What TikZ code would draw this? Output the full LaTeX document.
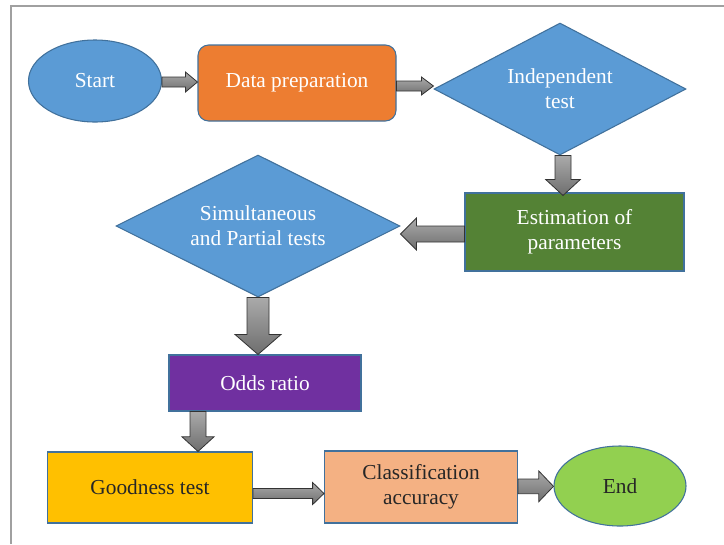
\documentclass[tikz,border=0pt]{standalone}
\usepackage{fontspec}
\setmainfont{Liberation Serif}
\usetikzlibrary{shapes.geometric,calc}
\definecolor{bord}{HTML}{41719C}
\definecolor{cblue}{HTML}{5B9BD5}
\definecolor{corange}{HTML}{ED7D31}
\definecolor{cgreen}{HTML}{548235}
\definecolor{cpurple}{HTML}{7030A0}
\definecolor{cyellow}{HTML}{FFC000}
\definecolor{cpeach}{HTML}{F4B183}
\definecolor{clgreen}{HTML}{92D050}
\definecolor{frame}{HTML}{A0A0A0}
\definecolor{agrayL}{HTML}{AAAAAA}
\definecolor{agrayD}{HTML}{6E6E6E}
\newcommand{\rarrowblk}[5]{\draw[barrow] let \p1=(#1), \p2=(#2) in
  (\x1,\y1+#3) -- (\x2-#5,\y1+#3) -- (\x2-#5,\y1+#4) -- (\x2,\y1) -- (\x2-#5,\y1-#4) -- (\x2-#5,\y1-#3) -- (\x1,\y1-#3) -- cycle;}
\newcommand{\larrowblk}[5]{\draw[barrow] let \p1=(#1), \p2=(#2) in
  (\x1,\y1+#3) -- (\x2+#5,\y1+#3) -- (\x2+#5,\y1+#4) -- (\x2,\y1) -- (\x2+#5,\y1-#4) -- (\x2+#5,\y1-#3) -- (\x1,\y1-#3) -- cycle;}
\newcommand{\darrowblk}[5]{\draw[barrow] let \p1=(#1), \p2=(#2) in
  (\x1-#3,\y1) -- (\x1-#3,\y2+#5) -- (\x1-#4,\y2+#5) -- (\x1,\y2) -- (\x1+#4,\y2+#5) -- (\x1+#3,\y2+#5) -- (\x1+#3,\y1) -- cycle;}
\tikzset{
  base/.style={draw=bord, line width=0.8pt, inner sep=0pt, align=center,
    font=\fontsize{16}{19}\selectfont},
  wtext/.style={text=white},
  dtext/.style={text=black!85},
  barrow/.style={draw=black!80, line width=0.6pt, top color=agrayL, bottom color=agrayD},
}
\begin{document}
\begin{tikzpicture}[x=0.75pt,y=-0.75pt]
\useasboundingbox (0,0) rectangle (724,544);
\fill[white] (0,0) rectangle (724,544);
\draw[frame, line width=1.5pt] (11,544) -- (11,6) -- (724,6);

\node[base, wtext, ellipse, fill=cblue, minimum width=99.75pt, minimum height=61.5pt] (start) at (95,81) {Start};
\node[base, wtext, rectangle, rounded corners=8pt, fill=corange, minimum width=148.5pt, minimum height=57pt] (data) at (297,83) {Data preparation};
\node[base, wtext, diamond, aspect=1.9, fill=cblue, minimum width=189pt, minimum height=99pt] (indep) at (560,89) {Independent\\test};
\node[base, wtext, rectangle, fill=cgreen, minimum width=164.25pt, minimum height=58.5pt] (estim) at (574.5,232) {Estimation of\\parameters};
\node[base, wtext, diamond, aspect=2, fill=cblue, minimum width=213pt, minimum height=106.5pt] (simul) at (258,226) {Simultaneous\\and Partial tests};
\node[base, wtext, rectangle, fill=cpurple, minimum width=144pt, minimum height=42pt] (odds) at (265,383) {Odds ratio};
\node[base, dtext, rectangle, fill=cyellow, minimum width=153.75pt, minimum height=53.25pt] (good) at (150,487.5) {Goodness test};
\node[base, dtext, rectangle, fill=cpeach, minimum width=144.75pt, minimum height=54pt] (class) at (421,487) {Classification\\accuracy};
\node[base, dtext, ellipse, fill=clgreen, minimum width=99pt, minimum height=60pt] (end) at (620,486) {End};

\rarrowblk{[yshift=-0.75pt]start.east}{[yshift=-0.75pt]data.west}{3.75pt}{7.5pt}{9pt}
\rarrowblk{[yshift=-2.25pt]data.east}{[yshift=-2.25pt]indep.west}{3.75pt}{6.75pt}{9pt}
\darrowblk{[xshift=2.25pt]indep.south}{[xshift=2.25pt,yshift=-2.25pt]estim.north}{6pt}{13pt}{12pt}
\larrowblk{[yshift=-1.5pt]estim.west}{[yshift=-1.5pt]simul.east}{6pt}{12pt}{12pt}
\darrowblk{simul.south}{odds.north}{8.25pt}{17.25pt}{15pt}
\darrowblk{[xshift=-50.25pt]odds.south}{[xshift=-50.25pt]good.north}{6pt}{12pt}{11pt}
\rarrowblk{[yshift=-4.5pt]good.east}{[yshift=-4.5pt]class.west}{3.75pt}{8.25pt}{8.5pt}
\rarrowblk{[yshift=0.5pt]class.east}{[yshift=0.5pt]end.west}{5.5pt}{11.5pt}{11pt}
\end{tikzpicture}
\end{document}
